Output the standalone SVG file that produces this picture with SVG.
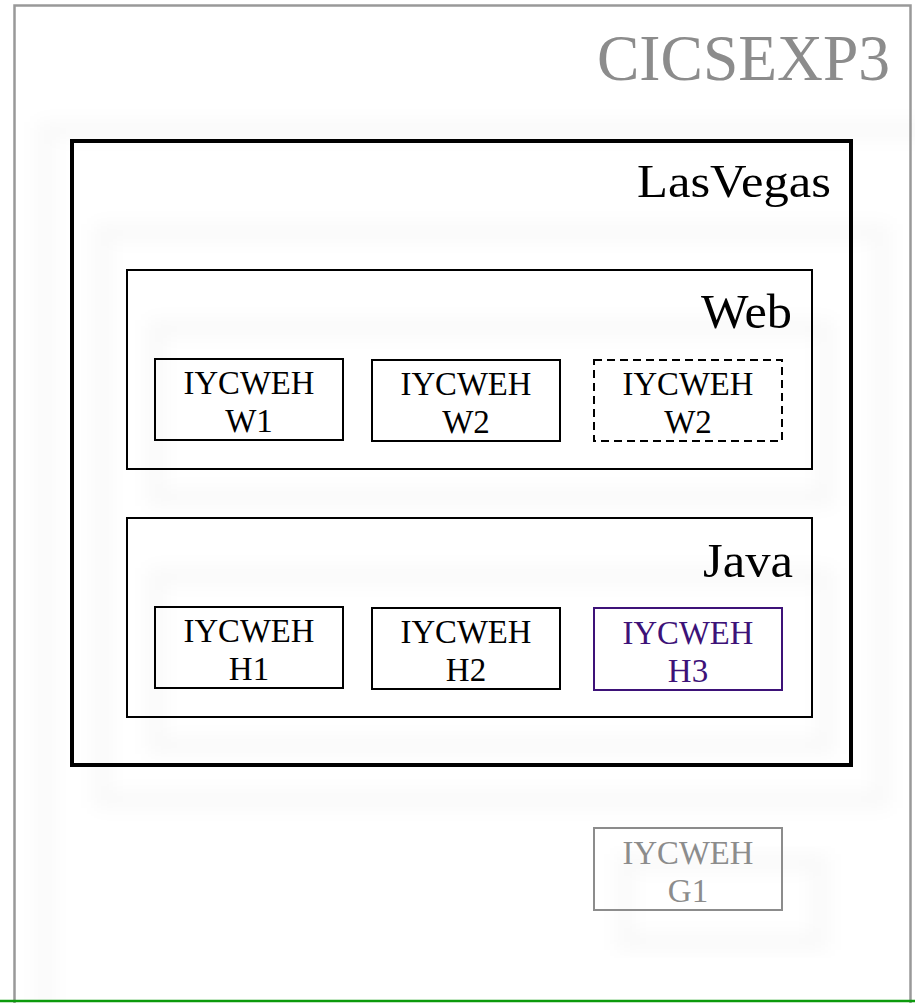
<svg xmlns="http://www.w3.org/2000/svg" width="915" height="1003" viewBox="0 0 915 1003">
<defs>
<filter id="blur" x="-20%" y="-20%" width="140%" height="140%"><feGaussianBlur stdDeviation="9"/></filter>
</defs>
<style>
text{font-family:"Liberation Serif","DejaVu Serif",serif;text-anchor:middle}
.box{fill:none;stroke:#000;stroke-width:2}
.lbl{font-size:33px;fill:#000}
.shadow{fill:none;stroke:#000;stroke-opacity:0.028;stroke-width:16;filter:url(#blur)}
.title{text-anchor:end}
</style>
<rect x="0" y="0" width="915" height="1003" fill="#fff"/>
<g id="shadows">
<rect class="shadow" x="45" y="130" width="900" height="900"/>
<rect class="shadow" x="102" y="232" width="780" height="568"/>
<rect class="shadow" x="156" y="328" width="670" height="170"/>
<rect class="shadow" x="156" y="576" width="670" height="170"/>
<rect class="shadow" x="625" y="862" width="195" height="80"/>
</g>
<g id="CICSEXP3">
<rect x="14.5" y="5.5" width="896" height="1010" fill="none" stroke="#999" stroke-width="2.5"/>
<text class="title" x="890" y="80" font-size="66" fill="#8c8c8c" textLength="293" lengthAdjust="spacingAndGlyphs">CICSEXP3</text>
</g>
<g id="LasVegas">
<rect x="72" y="141" width="779" height="624" fill="none" stroke="#000" stroke-width="4"/>
<text class="title" x="831" y="197" font-size="46" textLength="194" lengthAdjust="spacingAndGlyphs">LasVegas</text>
</g>
<g id="Web">
<rect class="box" x="127" y="270" width="685" height="199"/>
<text class="title" x="792" y="328" font-size="48" textLength="91" lengthAdjust="spacingAndGlyphs">Web</text>
</g>
<g id="Java">
<rect class="box" x="127" y="518" width="685" height="199"/>
<text class="title" x="793" y="577" font-size="48" textLength="90" lengthAdjust="spacingAndGlyphs">Java</text>
</g>
<g id="W1">
<rect class="box" x="155" y="359" width="188" height="81"/>
<text class="lbl" x="249" y="394" textLength="131" lengthAdjust="spacingAndGlyphs">IYCWEH</text>
<text class="lbl" x="249" y="432">W1</text>
</g>
<g id="W2">
<rect class="box" x="372" y="360" width="188" height="81"/>
<text class="lbl" x="466" y="395" textLength="131" lengthAdjust="spacingAndGlyphs">IYCWEH</text>
<text class="lbl" x="466" y="433">W2</text>
</g>
<g id="W2b">
<rect class="box" x="594" y="360" width="188" height="81" stroke-dasharray="8,5"/>
<text class="lbl" x="688" y="395" textLength="131" lengthAdjust="spacingAndGlyphs">IYCWEH</text>
<text class="lbl" x="688" y="433">W2</text>
</g>
<g id="H1">
<rect class="box" x="155" y="607" width="188" height="81"/>
<text class="lbl" x="249" y="642" textLength="131" lengthAdjust="spacingAndGlyphs">IYCWEH</text>
<text class="lbl" x="249" y="680">H1</text>
</g>
<g id="H2">
<rect class="box" x="372" y="608" width="188" height="81"/>
<text class="lbl" x="466" y="643" textLength="131" lengthAdjust="spacingAndGlyphs">IYCWEH</text>
<text class="lbl" x="466" y="681">H2</text>
</g>
<g id="H3">
<rect class="box" x="594" y="608" width="188" height="82" style="stroke:#3d1278"/>
<text class="lbl" x="688" y="644" style="fill:#3d1278" textLength="131" lengthAdjust="spacingAndGlyphs">IYCWEH</text>
<text class="lbl" x="688" y="682" style="fill:#3d1278">H3</text>
</g>
<g id="G1">
<rect class="box" x="594" y="828" width="188" height="82" style="stroke:#8c8c8c"/>
<text class="lbl" x="688" y="864" style="fill:#8c8c8c" textLength="131" lengthAdjust="spacingAndGlyphs">IYCWEH</text>
<text class="lbl" x="688" y="902" style="fill:#8c8c8c">G1</text>
</g>
<g id="connectors">
<line x1="0" y1="1001" x2="915" y2="1001" stroke="#0c9a0c" stroke-width="2.5"/>
</g>
</svg>
